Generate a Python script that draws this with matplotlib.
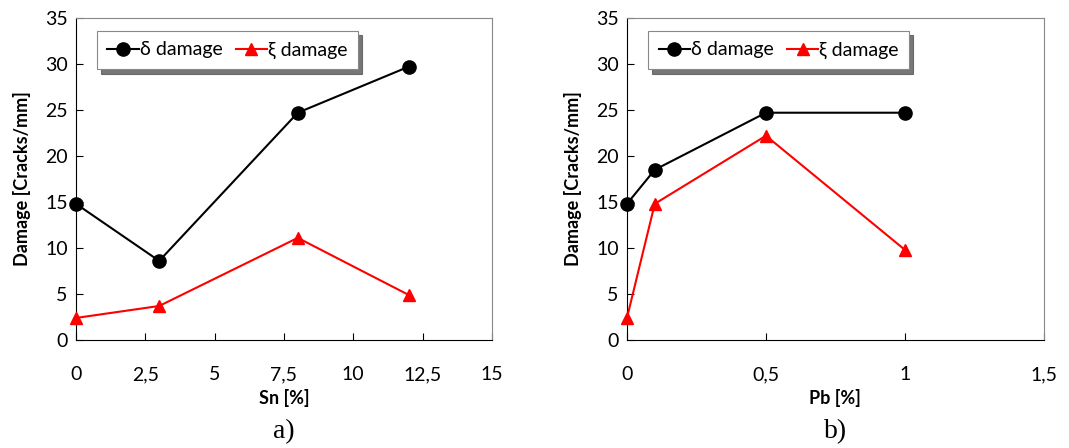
import matplotlib.pyplot as plt

plt.rcParams['font.family'] = ['Lato', 'DejaVu Sans']

sn = [0, 3, 8, 12]
sn_delta = [14.8, 8.6, 24.7, 29.7]
sn_xi = [2.4, 3.7, 11.1, 4.9]

pb = [0, 0.1, 0.5, 1]
pb_delta = [14.8, 18.5, 24.7, 24.7]
pb_xi = [2.4, 14.8, 22.2, 9.8]

sn_ticks = [0, 2.5, 5, 7.5, 10, 12.5, 15]
pb_ticks = [0, 0.5, 1, 1.5]
y_ticks = [0, 5, 10, 15, 20, 25, 30, 35]


def fmt(v):
    s = f"{v:g}"
    return s.replace('.', ',')


fig = plt.figure(figsize=(10.69, 4.48), dpi=100)
ax1 = fig.add_axes([0.0711, 0.241, 0.389, 0.719])
ax2 = fig.add_axes([0.5865, 0.241, 0.390, 0.719])

panels = [
    (ax1, sn, sn_delta, sn_xi, sn_ticks, 'Sn [%]', 'a)', (0, 15)),
    (ax2, pb, pb_delta, pb_xi, pb_ticks, 'Pb [%]', 'b)', (0, 1.5)),
]

for ax, x, d, xi, xt, xlabel, cap, xlim in panels:
    ax.plot(x, d, '-o', color='black', lw=1.5, ms=9.5, label='δ damage', clip_on=False, zorder=3)
    ax.plot(x, xi, '-^', color='red', lw=1.5, ms=8, label='ξ damage', clip_on=False, zorder=3)
    ax.set_xlim(*xlim)
    ax.set_ylim(0, 35)
    ax.set_xticks(xt)
    ax.set_xticklabels([fmt(v) for v in xt])
    ax.set_yticks(y_ticks)
    ax.tick_params(direction='in', length=5, labelsize=14, width=0.8)
    ax.tick_params(axis='x', pad=19)
    ax.tick_params(axis='y', pad=6)
    ax.set_xlabel(xlabel, fontsize=13, fontweight='bold', labelpad=4)
    ax.set_ylabel('Damage [Cracks/mm]', fontsize=13, fontweight='bold', labelpad=10)
    for side in ['top', 'right']:
        ax.spines[side].set_color('#888888')
    for side in ['left', 'bottom']:
        ax.spines[side].set_color('black')
    leg = ax.legend(loc='upper left', bbox_to_anchor=(0.05, 0.96), borderaxespad=0,
                    ncol=2, fontsize=14, frameon=True, fancybox=False,
                    shadow={'color': '#555555', 'alpha': 0.8, 'ox': 3, 'oy': -3},
                    edgecolor='#888888', handlelength=1.6, handletextpad=0.05,
                    columnspacing=0.7, borderpad=0.55)
    leg.get_frame().set_linewidth(0.8)
    ax.text(0.5, -0.285, cap, transform=ax.transAxes, ha='center', va='center',
            fontsize=20, family='Liberation Serif')

fig.savefig('out.png', dpi=100)
